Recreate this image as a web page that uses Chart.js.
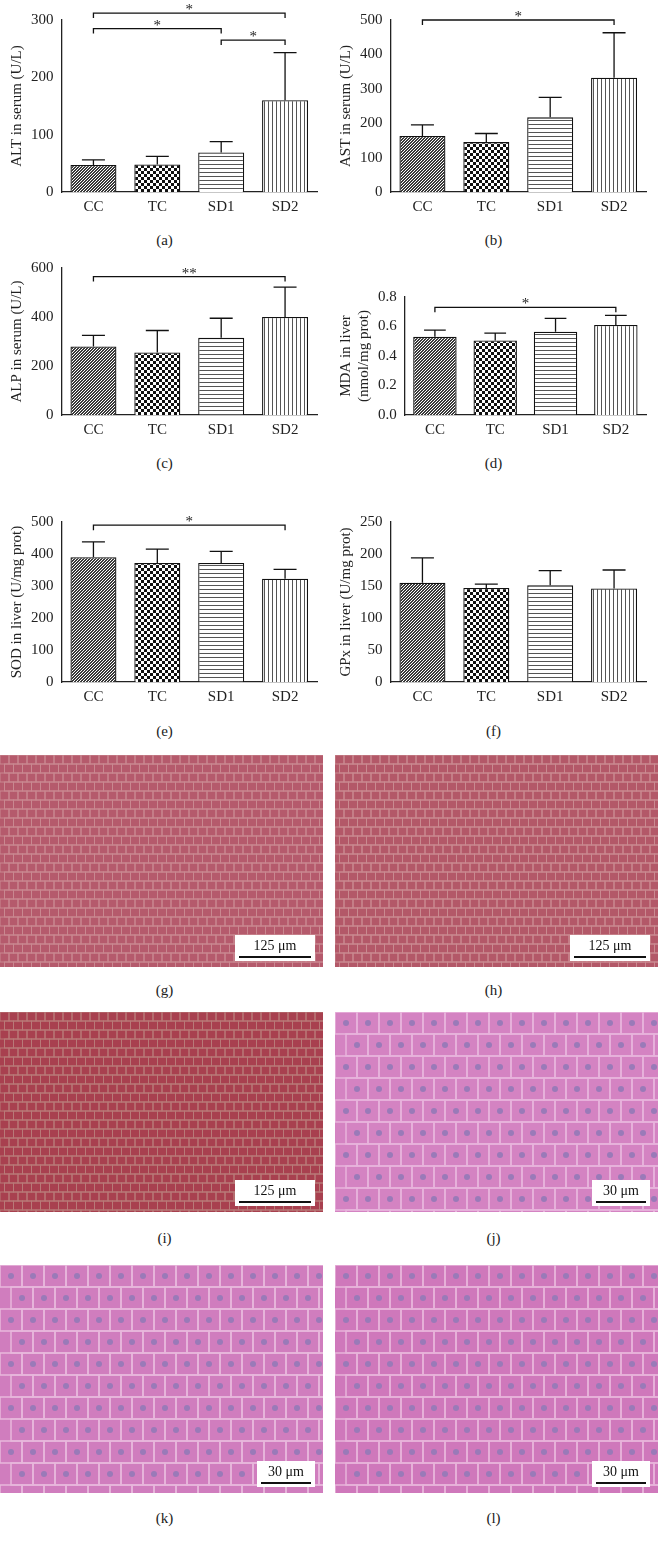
<!DOCTYPE html>
<html><head><meta charset="utf-8">
<script src="https://cdn.jsdelivr.net/npm/chart.js@4"></script>
<style>
body{margin:0;background:#fff;width:658px;height:1547px;position:relative;overflow:hidden;font-family:"Liberation Serif",serif}
.c{position:absolute}
.lab{position:absolute;width:329px;text-align:center;font-size:15px;color:#222}
</style></head><body>
<script>
const categories = ["CC","TC","SD1","SD2"];
const altMean = [47,48,69,160], altErr = [56,62,88,243];
const astMean = [163,145,217,332], astErr = [195,170,275,463];
const alpMean = [280,255,315,400], alpErr = [325,345,395,522];
const mdaMean = [0.53,0.505,0.565,0.61], mdaErr = [0.575,0.555,0.655,0.675];
const sodMean = [390,372,372,323], sodErr = [438,415,408,352];
const gpxMean = [155,147,151,146], gpxErr = [194,153,174,175];
const altSig = [[0,3,312,"*"],[0,2,285,"*"],[2,3,265,"*"]];
const astSig = [[0,3,500,"*"]];
const alpSig = [[0,3,565,"**"]];
const mdaSig = [[0,3,0.73,"*"]];
const sodSig = [[0,3,490,"*"]];
const gpxSig = [];

function pat(kind){
  const c=document.createElement('canvas');const x=c.getContext('2d');
  if(kind==0){c.width=3;c.height=3;x.fillStyle='#3a3a3a';x.fillRect(0,0,3,3);x.fillStyle='#fff';x.fillRect(0,0,1,1);x.fillRect(2,1,1,1);x.fillRect(1,2,1,1);}
  if(kind==1){c.width=6;c.height=6;x.fillStyle='#fff';x.fillRect(0,0,6,6);x.fillStyle='#111';x.fillRect(0,0,3,3);x.fillRect(3,3,3,3);}
  if(kind==2){c.width=4;c.height=4;x.fillStyle='#fff';x.fillRect(0,0,4,4);x.fillStyle='#555';x.fillRect(0,0,4,1);}
  if(kind==3){c.width=4;c.height=4;x.fillStyle='#fff';x.fillRect(0,0,4,4);x.fillStyle='#555';x.fillRect(0,0,1,4);}
  return x.createPattern(c,'repeat');
}
const FONT='"Liberation Serif", serif';
function mk(left,top,h,padTop,mean,err,max,step,title,sig,decimals){
  const cv=document.createElement('canvas');cv.className='c';
  cv.width=329;cv.height=h;
  cv.style.left=left+'px';cv.style.top=top+'px';
  document.body.appendChild(cv);
  const pats=[pat(0),pat(1),pat(2),pat(3)];
  new Chart(cv,{type:'bar',
    data:{labels:categories,datasets:[{data:mean,backgroundColor:pats,borderColor:'#111',borderWidth:1.3,categoryPercentage:0.72,barPercentage:1}]},
    options:{responsive:false,animation:false,devicePixelRatio:1,
      layout:{padding:{top:padTop,right:12,left:4,bottom:0}},
      plugins:{legend:{display:false},tooltip:{enabled:false}},
      scales:{
        x:{grid:{display:false,drawTicks:false},border:{color:'#222',width:1.3},ticks:{color:'#222',font:{family:FONT,size:15},padding:6}},
        y:{min:0,max:max,grid:{display:false,drawTicks:true,tickLength:5,tickColor:'#222'},border:{color:'#222',width:1.3},
           ticks:{stepSize:step,color:'#222',font:{family:FONT,size:15},callback:v=>decimals?Number(v).toFixed(1):v},
           title:{display:true,text:title,color:'#222',font:{family:FONT,size:15},padding:{bottom:2}}}
      }},
    plugins:[{id:'eb',afterDatasetsDraw(ch){
      const c=ch.ctx,xs=ch.scales.x,ys=ch.scales.y,meta=ch.getDatasetMeta(0);
      c.save();c.strokeStyle='#111';c.lineWidth=1.3;
      meta.data.forEach((b,i)=>{const x=b.x,w=b.width/4,y0=ys.getPixelForValue(mean[i]),y1=ys.getPixelForValue(err[i]);
        c.beginPath();c.moveTo(x,y0);c.lineTo(x,y1);c.moveTo(x-w,y1);c.lineTo(x+w,y1);c.stroke();});
      c.fillStyle='#222';c.font='15px '+FONT;c.textAlign='center';
      sig.forEach(s=>{const xa=xs.getPixelForValue(s[0]),xb=xs.getPixelForValue(s[1]),y=ys.getPixelForValue(s[2]);
        c.beginPath();c.moveTo(xa,y+5);c.lineTo(xa,y);c.lineTo(xb,y);c.lineTo(xb,y+5);c.stroke();
        c.fillText(s[3],(xa+xb)/2,y+1);});
      c.restore();}}]
  });
}
mk(0,0,222,20,altMean,altErr,300,100,"ALT in serum (U/L)",altSig);
mk(329,0,222,20,astMean,astErr,500,100,"AST in serum (U/L)",astSig);
mk(0,250,195,18,alpMean,alpErr,600,200,"ALP in serum (U/L)",alpSig);
mk(329,250,195,47,mdaMean,mdaErr,0.8,0.2,["MDA in liver","(nmol/mg prot)"],mdaSig,true);
mk(0,505,207,17,sodMean,sodErr,500,100,"SOD in liver (U/mg prot)",sodSig);
mk(329,505,207,17,gpxMean,gpxErr,250,50,"GPx in liver (U/mg prot)",gpxSig);

const labs=[["(a)",0,232],["(b)",329,232],["(c)",0,455],["(d)",329,455],["(e)",0,723],["(f)",329,723],
 ["(g)",0,982],["(h)",329,982],["(i)",0,1230],["(j)",329,1230],["(k)",0,1510],["(l)",329,1510]];
labs.forEach(l=>{const d=document.createElement('div');d.className='lab';d.textContent=l[0];d.style.left=l[1]+'px';d.style.top=l[2]+'px';document.body.appendChild(d);});

// micrograph placeholders
const imgs=[[0,755,323,212,'#b55a6c','#c98890',"125 μm",0],[335,755,323,212,'#b35868','#c98a90',"125 μm",0],
 [0,1012,323,200,'#a8404f','#b87a78',"125 μm",0],[335,1012,323,200,'#d483c2','#e8b4dc',"30 μm",1],
 [0,1265,323,228,'#d07dbe','#e8b8dc',"30 μm",1],[335,1265,323,228,'#cf78bb','#e8b4da',"30 μm",1]];
imgs.forEach(m=>{
  const cv=document.createElement('canvas');cv.className='c';cv.width=m[2];cv.height=m[3];
  cv.style.left=m[0]+'px';cv.style.top=m[1]+'px';document.body.appendChild(cv);
  const c=cv.getContext('2d');c.fillStyle=m[4];c.fillRect(0,0,m[2],m[3]);
  const cell=m[7]?22:9;c.strokeStyle=m[5];c.lineWidth=m[7]?1.5:1;
  for(let y=0;y<m[3];y+=cell)for(let x=((y/cell)%2)*cell/2;x<m[2];x+=cell){c.strokeRect(x,y,cell,cell);}
  if(m[7]){c.fillStyle='#9a7ab8';for(let y=cell/2;y<m[3];y+=cell)for(let x=((y/cell|0)%2)*cell/2+cell/2;x<m[2];x+=cell){c.beginPath();c.arc(x,y,3,0,7);c.fill();}}
  const bw=m[7]?58:80,bh=26,bx=m[2]-bw-8,by=m[3]-bh-6;
  c.fillStyle='#fff';c.fillRect(bx,by,bw,bh);c.fillStyle='#111';c.font='14px "Liberation Serif"';c.textAlign='center';
  c.fillText(m[6],bx+bw/2,by+15);c.fillRect(bx+4,by+bh-5,bw-8,2);
});
</script>
</body></html>
